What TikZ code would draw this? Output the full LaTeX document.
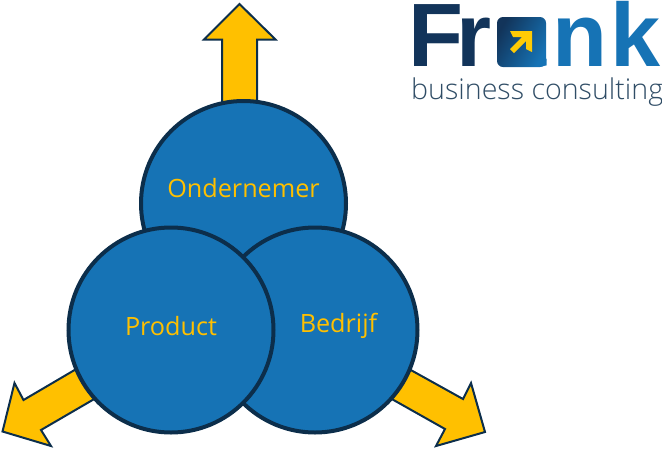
\documentclass[tikz,border=0pt]{standalone}
\usepackage{fontspec}
\setmainfont{Open Sans}
\newfontfamily\logobold{Liberation Sans}
\newfontfamily\logolight{Open Sans Light}
\definecolor{bubbleblue}{HTML}{1673B5}
\definecolor{edgenavy}{HTML}{0C2E4B}
\definecolor{arrowgold}{HTML}{FFC000}
\definecolor{markyellow}{HTML}{FFCB05}
\definecolor{logodark}{HTML}{12345A}
\tikzset{
	bubble/.style={circle, draw=edgenavy, line width=4pt, fill=bubbleblue, minimum size=205pt, inner sep=0pt},
	bubbletext/.style={text=arrowgold, font=\fontsize{25.2}{25.2}\selectfont},
	growarrow/.style={draw=edgenavy, line width=2pt, fill=arrowgold, line join=miter}
}
\begin{document}
\begin{tikzpicture}[x=1pt,y=-1pt]
	\useasboundingbox (0,0) rectangle (662,448);
	
	% arrows
	\draw[growarrow] (222,105) -- (222,39.5) -- (204,39.5) -- (239.5,4) -- (275.5,39.5) -- (257,39.5) -- (257,105) -- cycle;
	\draw[growarrow] (78,368) -- (23.5,400) -- (14.5,383) -- (2.5,431.5) -- (51,446) -- (41,430) -- (96,398) -- cycle;
	\draw[growarrow] (409,369) -- (463,399) -- (471,383) -- (485,432) -- (436,446) -- (445,429) -- (390,398) -- cycle;
	
	% circles
	\node[bubble] (ondernemer) at (243.5,203.5) {};
	\node[bubble] (bedrijf) at (315,330) {};
	\node[bubble] (product) at (171,330) {};
	
	% labels
	\node[bubbletext] (ondernemerlabel) at (243.5,188) {Ondernemer};
	\node[bubbletext] (productlabel) at (171,326) {Product};
	\node[bubbletext] (bedrijflabel) at (338.5,326) {Bedrijf};
	
	% logo
	\node[anchor=base west, inner sep=0pt, font=\logobold\bfseries\fontsize{90}{90}\selectfont] (logoname) at (408.4,66)
		{\textcolor{logodark}{F\kern-7.5ptr}\kern5pt\textcolor{bubbleblue}{a\kern6ptn\kern3ptk}};
	\node[anchor=base west, inner sep=0pt, text=edgenavy!85!white, font=\logolight\fontsize{28.6}{28.6}\selectfont] (logoline) at (411,99.5) {business consulting};
	\shade[left color=logodark, right color=bubbleblue, shading angle=60, rounded corners=6pt] (497,17) rectangle (546,67);
	\fill[markyellow] (510,31) -- (532,31) -- (532,52) -- (526,49) -- (526,41) -- (514,53) -- (510,49) -- (522,37) -- (513,37) -- cycle;
\end{tikzpicture}
\end{document}
